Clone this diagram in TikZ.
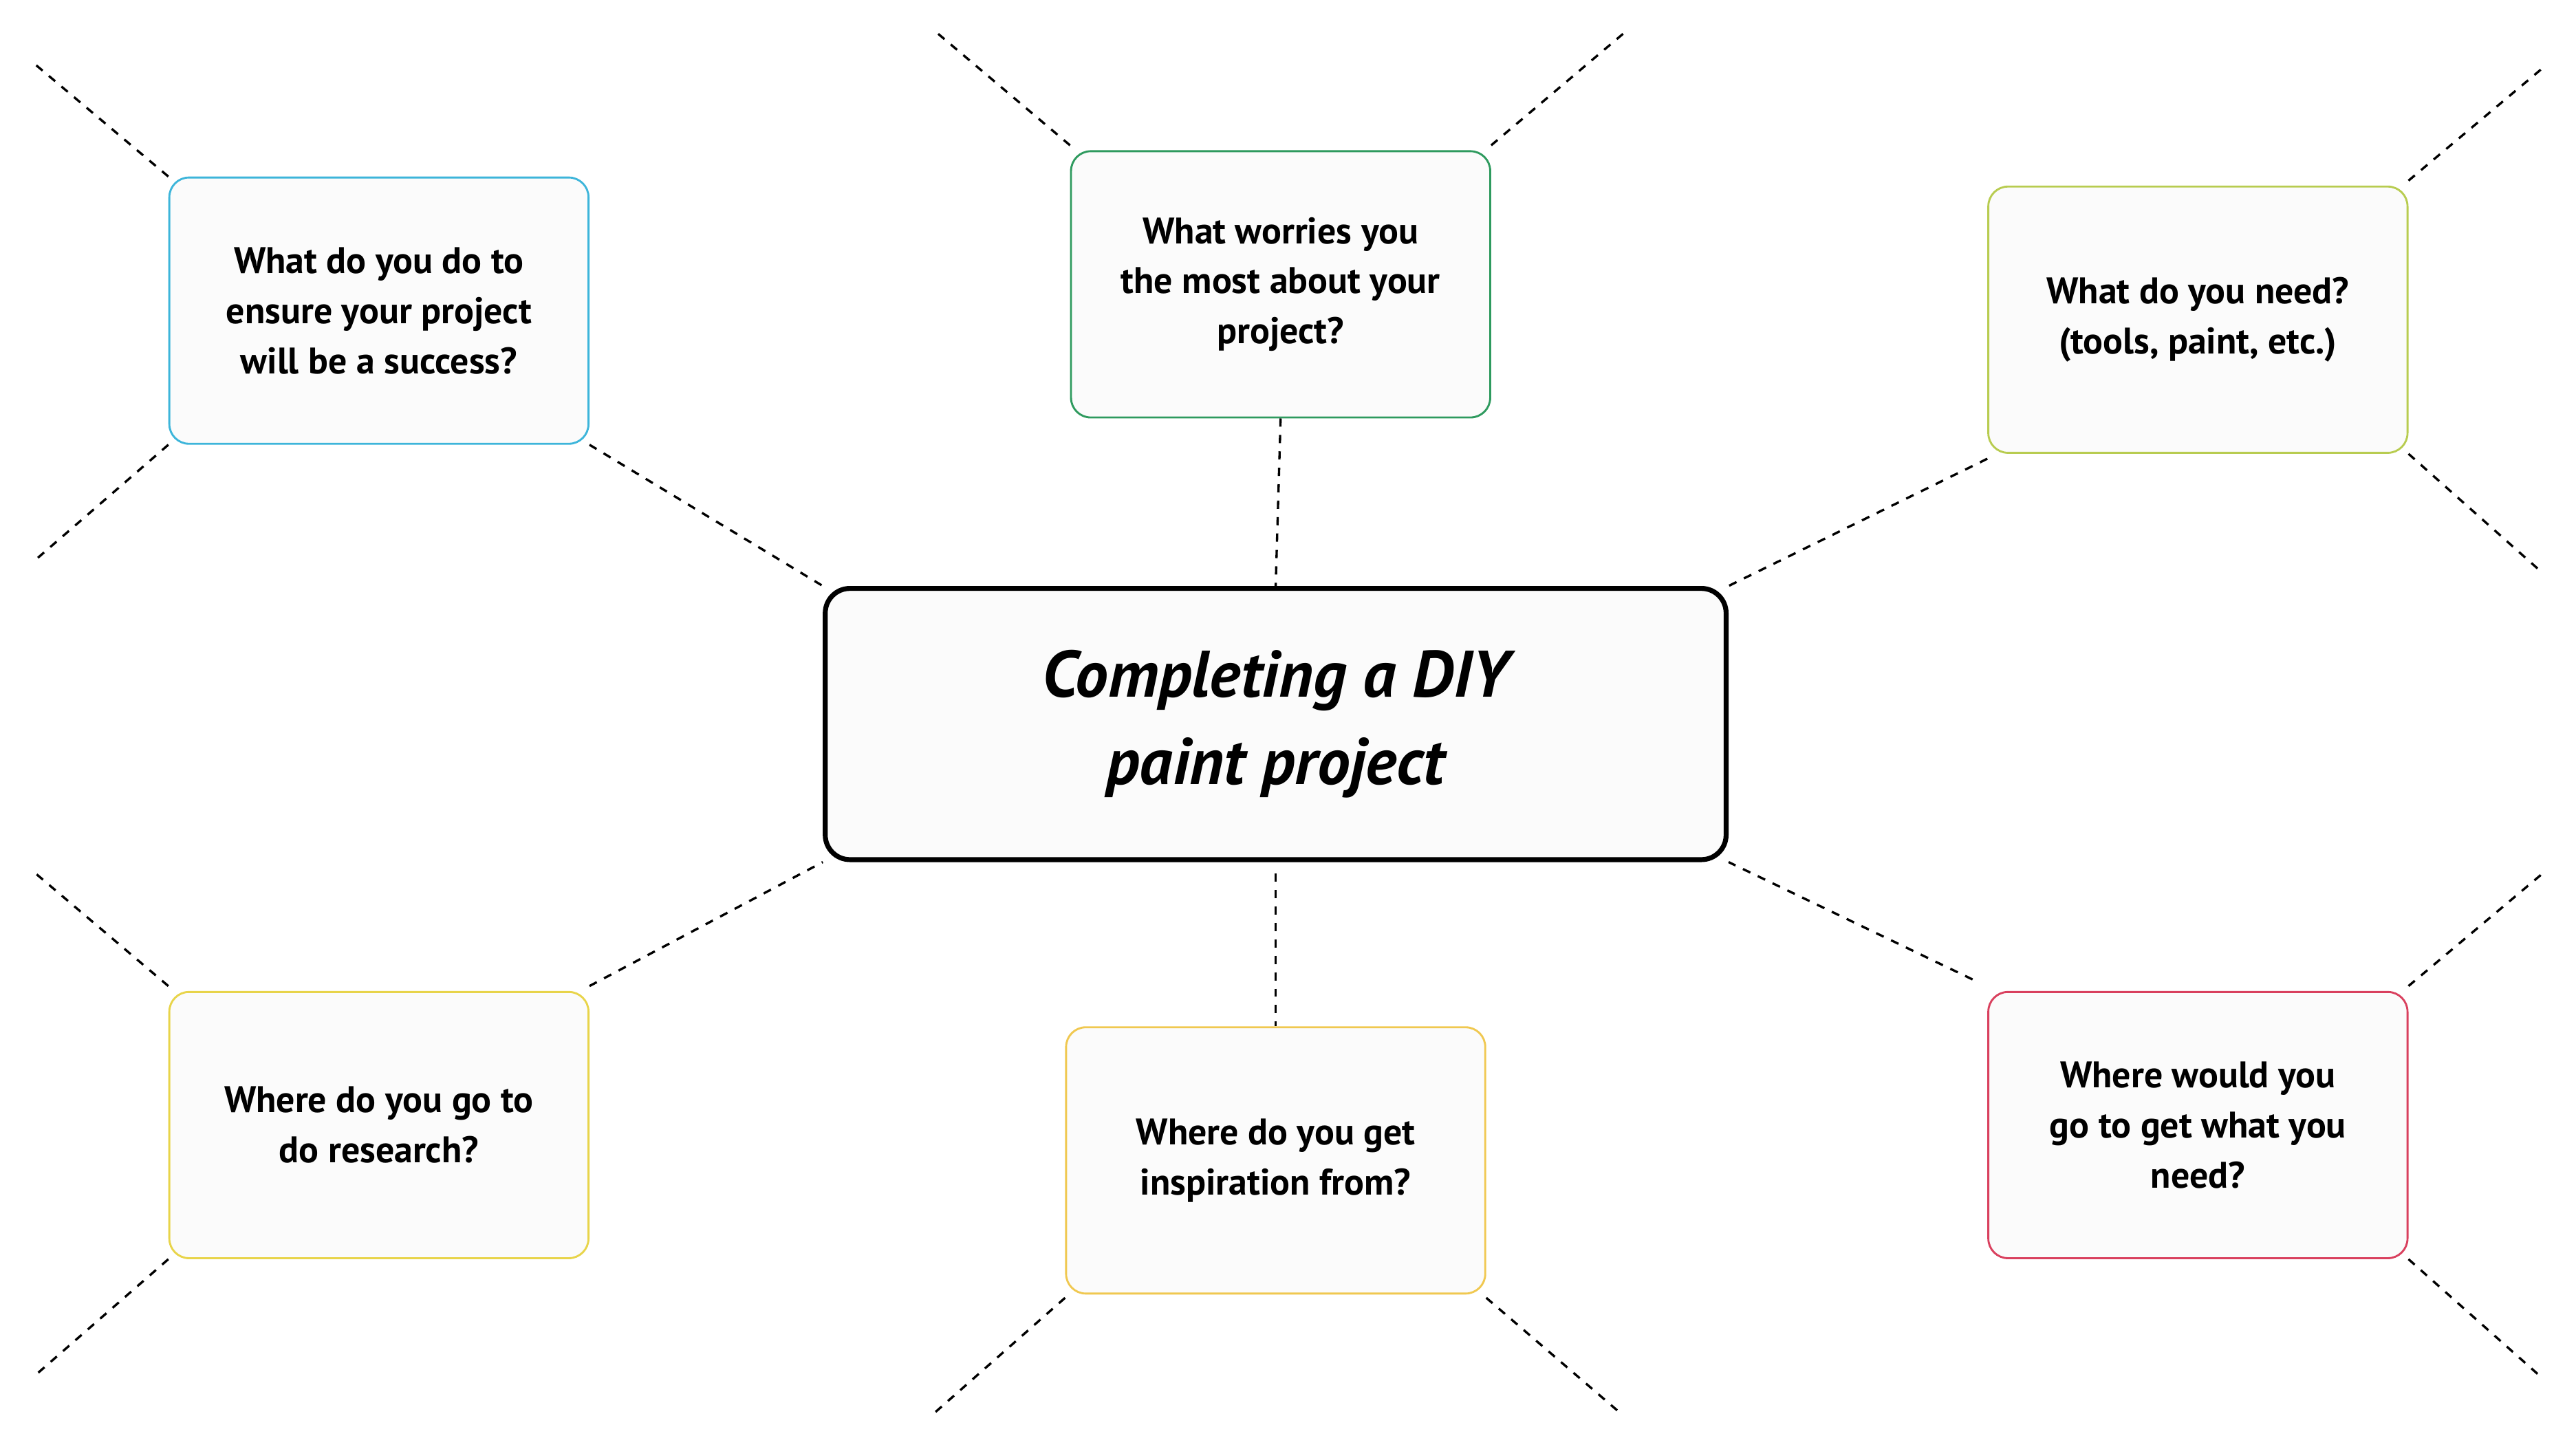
\documentclass[tikz,border=0pt]{standalone}
\usepackage{fontspec}
\setmainfont{PT Sans}
\begin{document}
\begin{tikzpicture}[x=1pt,y=-1pt,
  qbox/.style={draw,line width=1.2pt,rounded corners=12pt,fill=boxfill,minimum width=255pt,minimum height=162pt,align=center,font=\fontsize{22.5}{30.5}\selectfont\bfseries,inner sep=0pt},
  dline/.style={line width=1.4pt,dash pattern=on 5pt off 5pt}]
\definecolor{boxfill}{HTML}{FBFBFB}
\definecolor{cA}{HTML}{3DB5DA}
\definecolor{cB}{HTML}{2E9A5E}
\definecolor{cC}{HTML}{B8CC50}
\definecolor{cD}{HTML}{E8D44A}
\definecolor{cE}{HTML}{F0C850}
\definecolor{cF}{HTML}{D9405E}
\useasboundingbox (0,0) rectangle (1567,880);
\node[qbox,draw=cA] (tl) at (230.5,189) {What do you do to\\ensure your project\\will be a success?};
\node[qbox,draw=cB] (tc) at (779,173) {What worries you\\the most about your\\project?};
\node[qbox,draw=cC] (tr) at (1337,194.5) {What do you need?\\(tools, paint, etc.)};
\node[qbox,draw=cD] (bl) at (230.5,684.5) {Where do you go to\\do research?};
\node[qbox,draw=cE] (bc) at (776,706) {Where do you get\\inspiration from?};
\node[qbox,draw=cF] (br) at (1337,684.5) {Where would you\\go to get what you\\need?};
\node[draw,line width=3pt,rounded corners=15pt,fill=boxfill,minimum width=548pt,minimum height=165pt,align=center,font=\fontsize{40}{53}\selectfont\bfseries\itshape,inner sep=0pt] (c) at (776,440.5) {Completing a DIY\\paint project};
\coordinate (e1) at (20,38); \coordinate (e2) at (20,342);
\coordinate (e3) at (570,20); \coordinate (e4) at (988,20);
\coordinate (e5) at (1546,42); \coordinate (e6) at (1546,348);
\coordinate (e7) at (20,530); \coordinate (e8) at (20,838);
\coordinate (e9) at (568,860); \coordinate (e10) at (986,860);
\coordinate (e11) at (1546,532); \coordinate (e12) at (1546,838);
\draw[dline] (tl.north west) -- (e1);
\draw[dline] (tl.south west) -- (e2);
\draw[dline] (tl.south east) -- (c.north west);
\draw[dline] ([yshift=3pt]tc.north west) -- (e3);
\draw[dline] ([yshift=3pt]tc.north east) -- (e4);
\draw[dline] (tc.south) -- (c.north);
\draw[dline] ([yshift=3pt]tr.north east) -- (e5);
\draw[dline] (tr.south east) -- (e6);
\draw[dline] ([yshift=-3pt]tr.south west) -- (c.north east);
\draw[dline] ([yshift=3pt]bl.north west) -- (e7);
\draw[dline] (bl.south west) -- (e8);
\draw[dline] ([yshift=3pt]bl.north east) -- (c.south west);
\draw[dline] ([yshift=-7pt]c.south) -- (bc.north);
\draw[dline] ([yshift=-2pt]bc.south west) -- (e9);
\draw[dline] ([yshift=-2pt]bc.south east) -- (e10);
\draw[dline] ([yshift=3pt]br.north east) -- (e11);
\draw[dline] (br.south east) -- (e12);
\draw[dline] ([xshift=-9pt,yshift=7pt]br.north west) -- (c.south east);
\end{tikzpicture}
\end{document}
